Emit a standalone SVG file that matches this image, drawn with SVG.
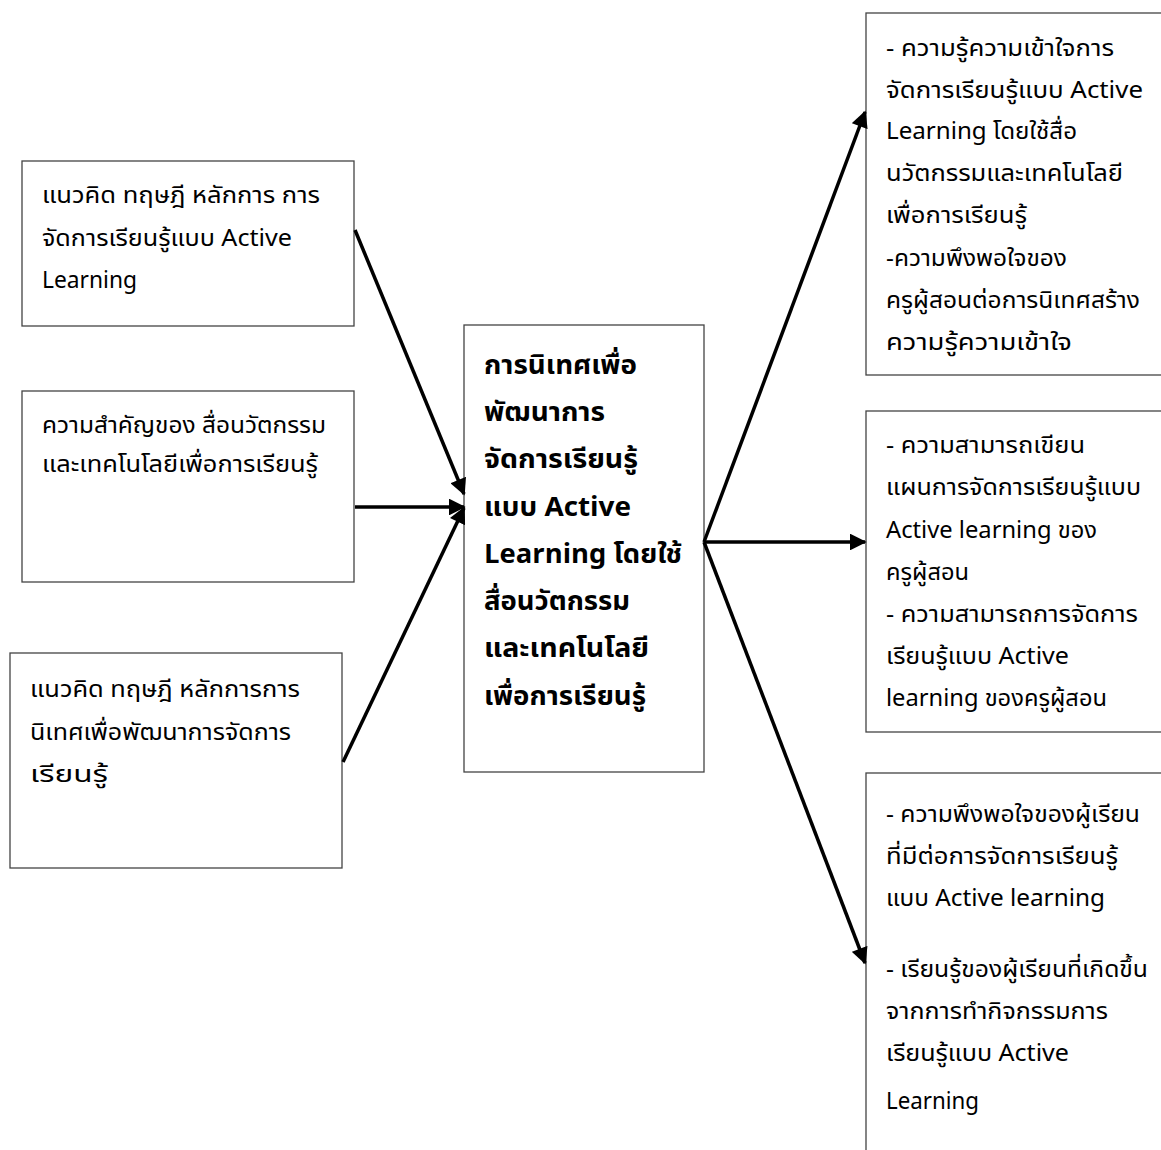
<svg xmlns="http://www.w3.org/2000/svg" width="1161" height="1150" viewBox="0 0 1161 1150">
<style>
.box{fill:#fff;stroke:#444;stroke-width:1.3}
.t{font-family:"Noto Sans Thai","Leelawadee UI","Tahoma","Noto Sans",sans-serif;font-size:23px;fill:#000}
.b{font-family:"Noto Sans Thai","Leelawadee UI","Tahoma","Noto Sans",sans-serif;font-size:26px;font-weight:bold;fill:#000}
.c{stroke:#000;stroke-width:3.5;fill:none}
</style>
<defs>
<marker id="ah" viewBox="0 0 10 10" refX="9" refY="5" markerWidth="5" markerHeight="4.8" orient="auto" markerUnits="strokeWidth">
<path d="M0,0 L10,5 L0,10 z" fill="#000"/>
</marker>
</defs>
<rect width="1161" height="1150" fill="#fff"/>
<g id="n1">
<rect class="box" x="22" y="161" width="332" height="165"/>
<text class="t" x="42" y="203" textLength="278" lengthAdjust="spacingAndGlyphs">แนวคิด ทฤษฎี หลักการ การ</text>
<text class="t" x="42" y="246" textLength="250" lengthAdjust="spacingAndGlyphs">จัดการเรียนรู้แบบ Active</text>
<text class="t" x="42" y="288" textLength="95" lengthAdjust="spacingAndGlyphs">Learning</text>
</g>
<g id="n2">
<rect class="box" x="22" y="391" width="332" height="191"/>
<text class="t" x="42" y="433" textLength="284" lengthAdjust="spacingAndGlyphs">ความสำคัญของ สื่อนวัตกรรม</text>
<text class="t" x="42" y="472" textLength="276" lengthAdjust="spacingAndGlyphs">และเทคโนโลยีเพื่อการเรียนรู้</text>
</g>
<g id="n3">
<rect class="box" x="10" y="653" width="332" height="215"/>
<text class="t" x="30" y="697" textLength="270" lengthAdjust="spacingAndGlyphs">แนวคิด ทฤษฎี หลักการการ</text>
<text class="t" x="30" y="740" textLength="261" lengthAdjust="spacingAndGlyphs">นิเทศเพื่อพัฒนาการจัดการ</text>
<text class="t" x="30" y="782" textLength="78" lengthAdjust="spacingAndGlyphs">เรียนรู้</text>
</g>
<g id="center">
<rect class="box" x="464" y="325" width="240" height="447"/>
<text class="b" x="484" y="374" textLength="153" lengthAdjust="spacingAndGlyphs">การนิเทศเพื่อ</text>
<text class="b" x="484" y="421" textLength="121" lengthAdjust="spacingAndGlyphs">พัฒนาการ</text>
<text class="b" x="484" y="468" textLength="154" lengthAdjust="spacingAndGlyphs">จัดการเรียนรู้</text>
<text class="b" x="484" y="516" textLength="147" lengthAdjust="spacingAndGlyphs">แบบ Active</text>
<text class="b" x="484" y="563" textLength="198" lengthAdjust="spacingAndGlyphs">Learning โดยใช้</text>
<text class="b" x="484" y="610" textLength="146" lengthAdjust="spacingAndGlyphs">สื่อนวัตกรรม</text>
<text class="b" x="484" y="657" textLength="165" lengthAdjust="spacingAndGlyphs">และเทคโนโลยี</text>
<text class="b" x="484" y="705" textLength="162" lengthAdjust="spacingAndGlyphs">เพื่อการเรียนรู้</text>
</g>
<g id="r1">
<rect class="box" x="866" y="13" width="300" height="362"/>
<text class="t" x="886" y="56" textLength="228" lengthAdjust="spacingAndGlyphs">- ความรู้ความเข้าใจการ</text>
<text class="t" x="886" y="98" textLength="257" lengthAdjust="spacingAndGlyphs">จัดการเรียนรู้แบบ  Active</text>
<text class="t" x="886" y="139" textLength="191" lengthAdjust="spacingAndGlyphs">Learning โดยใช้สื่อ</text>
<text class="t" x="886" y="181" textLength="237" lengthAdjust="spacingAndGlyphs">นวัตกรรมและเทคโนโลยี</text>
<text class="t" x="886" y="223" textLength="141" lengthAdjust="spacingAndGlyphs">เพื่อการเรียนรู้</text>
<text class="t" x="886" y="266" textLength="181" lengthAdjust="spacingAndGlyphs">-ความพึงพอใจของ</text>
<text class="t" x="886" y="308" textLength="254" lengthAdjust="spacingAndGlyphs">ครูผู้สอนต่อการนิเทศสร้าง</text>
<text class="t" x="886" y="350" textLength="186" lengthAdjust="spacingAndGlyphs">ความรู้ความเข้าใจ</text>
</g>
<g id="r2">
<rect class="box" x="866" y="411" width="300" height="321"/>
<text class="t" x="886" y="453" textLength="199" lengthAdjust="spacingAndGlyphs">- ความสามารถเขียน</text>
<text class="t" x="886" y="495" textLength="255" lengthAdjust="spacingAndGlyphs">แผนการจัดการเรียนรู้แบบ</text>
<text class="t" x="886" y="538" textLength="211" lengthAdjust="spacingAndGlyphs">Active learning ของ</text>
<text class="t" x="886" y="580" textLength="83" lengthAdjust="spacingAndGlyphs">ครูผู้สอน</text>
<text class="t" x="886" y="622" textLength="252" lengthAdjust="spacingAndGlyphs">- ความสามารถการจัดการ</text>
<text class="t" x="886" y="664" textLength="183" lengthAdjust="spacingAndGlyphs">เรียนรู้แบบ Active</text>
<text class="t" x="886" y="706" textLength="221" lengthAdjust="spacingAndGlyphs">learning ของครูผู้สอน</text>
</g>
<g id="r3">
<rect class="box" x="866" y="773" width="300" height="400"/>
<text class="t" x="886" y="822" textLength="254" lengthAdjust="spacingAndGlyphs">- ความพึงพอใจของผู้เรียน</text>
<text class="t" x="886" y="864" textLength="232" lengthAdjust="spacingAndGlyphs">ที่มีต่อการจัดการเรียนรู้</text>
<text class="t" x="886" y="906" textLength="219" lengthAdjust="spacingAndGlyphs">แบบ Active learning</text>
<text class="t" x="886" y="977" textLength="262" lengthAdjust="spacingAndGlyphs">- เรียนรู้ของผู้เรียนที่เกิดขึ้น</text>
<text class="t" x="886" y="1019" textLength="222" lengthAdjust="spacingAndGlyphs">จากการทำกิจกรรมการ</text>
<text class="t" x="886" y="1061" textLength="183" lengthAdjust="spacingAndGlyphs">เรียนรู้แบบ Active</text>
<text class="t" x="886" y="1109" textLength="93" lengthAdjust="spacingAndGlyphs">Learning</text>
</g>
<g id="connectors">
<line class="c" x1="355" y1="230" x2="464" y2="494" marker-end="url(#ah)"/>
<line class="c" x1="355" y1="507" x2="464" y2="507" marker-end="url(#ah)"/>
<line class="c" x1="343" y1="762" x2="464" y2="508" marker-end="url(#ah)"/>
<line class="c" x1="704" y1="542" x2="865" y2="112" marker-end="url(#ah)"/>
<line class="c" x1="704" y1="542" x2="865" y2="542" marker-end="url(#ah)"/>
<line class="c" x1="704" y1="542" x2="865" y2="963" marker-end="url(#ah)"/>
</g>
</svg>
